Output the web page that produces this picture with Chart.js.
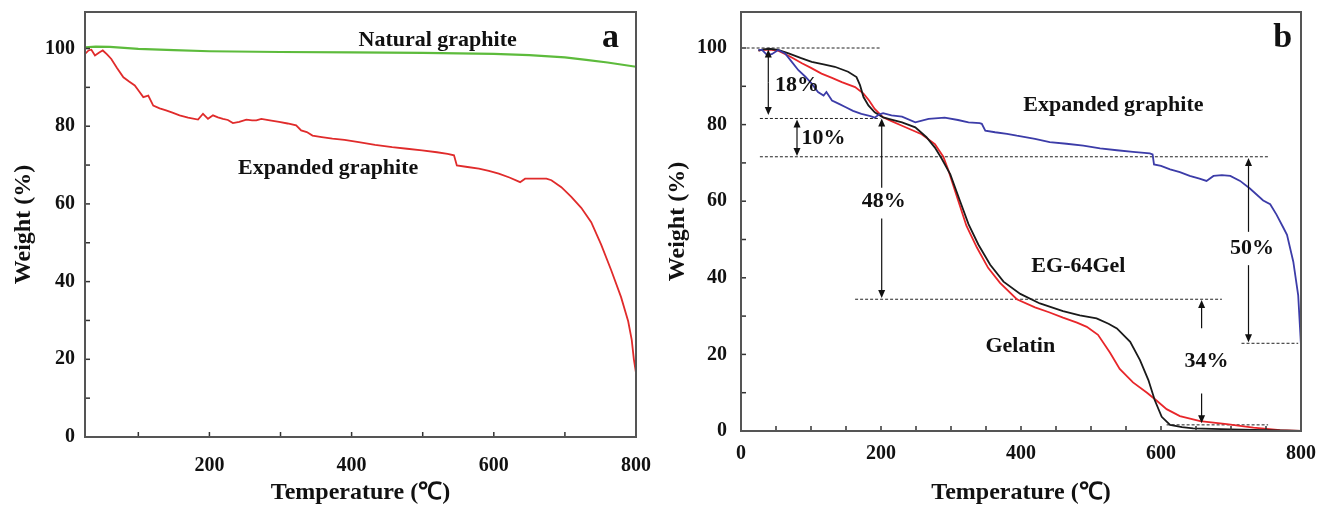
<!DOCTYPE html>
<html>
<head>
<meta charset="utf-8">
<script src="https://cdn.jsdelivr.net/npm/chart.js@4/dist/chart.umd.min.js"></script>
<style>
  body { margin: 0; background: #fff; }
  #wrap { position: relative; width: 1326px; height: 514px; }
  .panel { position: absolute; top: 0; height: 514px; }
  #pa { left: 0; width: 660px; }
  #pb { left: 660px; width: 666px; }
</style>
</head>
<body>
<div id="wrap">
  <div class="panel" id="pa"><canvas id="ca"></canvas></div>
  <div class="panel" id="pb"><canvas id="cb"></canvas></div>
</div>
<script>
// ---- panel a: natural vs expanded graphite ----
const tempA_NG = [25, 40, 60, 100, 150, 200, 300, 400, 500, 600, 650, 700, 730, 760, 800];
const wtA_NG = [100.3, 100.5, 100.4, 99.9, 99.6, 99.3, 99.1, 99.0, 98.9, 98.6, 98.3, 97.7, 97.1, 96.4, 95.3];

const tempA_EG = [25, 30, 34, 39, 45, 50, 56, 62, 70, 79, 87, 95, 101, 107, 114, 121, 130, 139, 148, 158,
  170, 184, 191, 198, 205, 212, 219, 226, 233, 242, 252, 260, 266, 273, 285, 298, 310, 322, 329, 337,
  345, 358, 373, 390, 410, 433, 457, 478, 499, 520, 535, 544, 548, 563, 579, 593, 607, 622, 637, 644,
  660, 674, 681, 695, 709, 723, 737, 751, 765, 779, 789, 794, 797, 800];
const wtA_EG = [98.6, 99.5, 99.7, 98.2, 99.0, 99.5, 98.5, 97.3, 95.0, 92.6, 91.5, 90.5, 89.0, 87.5, 87.9, 85.3, 84.6, 84.1, 83.5, 82.8,
  82.2, 81.7, 83.2, 81.9, 82.8, 82.3, 81.9, 81.6, 80.8, 81.1, 81.7, 81.5, 81.5, 81.9, 81.5, 81.1, 80.7, 80.2, 78.9, 78.5,
  77.6, 77.2, 76.8, 76.5, 75.9, 75.2, 74.6, 74.2, 73.8, 73.3, 72.9, 72.5, 69.9, 69.5, 69.1, 68.5, 67.8, 66.8, 65.6, 66.5,
  66.5, 66.5, 66.1, 64.3, 61.8, 59.0, 55.3, 49.5, 43.0, 36.0, 29.8, 25.0, 20.0, 16.5];

const xTicksA = [100, 200, 300, 400, 500, 600, 700, 800];
const xLabelsA = [200, 400, 600, 800];

// ---- panel b: expanded graphite, gelatin, EG-64Gel ----
const tempB_EG = [25, 30, 37, 44, 53, 63, 72, 82, 92, 101, 110, 118, 122, 130, 140, 149, 160, 172, 185, 191,
  197, 203, 215, 230, 249, 268, 291, 310, 325, 341, 344, 349, 363, 380, 394, 420, 441, 465, 489, 513,
  537, 560, 584, 588, 590, 600, 613, 627, 641, 655, 665, 675, 687, 699, 713, 727, 746, 756, 765, 775,
  780, 789, 796, 800];
const wtB_EG = [99.5, 99.5, 98.2, 98.4, 99.5, 98.6, 96.5, 94.2, 92.5, 90.7, 88.5, 87.6, 88.5, 86.3, 85.4, 84.6, 83.6, 82.8, 82.2, 81.8,
  82.6, 83.0, 82.4, 82.1, 80.6, 81.5, 81.8, 81.2, 80.6, 80.4, 80.2, 78.4, 78.0, 77.6, 77.1, 76.3, 75.4, 75.0, 74.5, 73.8,
  73.3, 72.9, 72.5, 72.2, 69.6, 69.2, 68.3, 67.6, 66.6, 65.9, 65.3, 66.6, 66.8, 66.6, 65.3, 63.3, 60.2, 59.2, 56.5, 53.0,
  51.2, 44.2, 35.4, 22.3];

const tempB_Comp = [25, 30, 40, 53, 68, 85, 101, 118, 134, 153, 165, 170, 175, 182, 191, 203, 215, 230, 249, 265,
  277, 287, 299, 313, 325, 339, 356, 375, 399, 427, 460, 484, 508, 525, 537, 556, 570, 582, 591, 601,
  613, 630, 646, 700, 750, 800];
const wtB_Comp = [99.3, 99.6, 99.8, 99.5, 98.6, 97.4, 96.4, 95.7, 95.1, 93.8, 92.4, 90.3, 87.2, 85.0, 83.2, 81.9, 81.3, 80.6, 79.3, 76.7,
  74.0, 71.0, 67.0, 60.0, 54.0, 48.7, 43.4, 39.0, 35.8, 33.3, 31.3, 30.2, 29.4, 28.0, 26.8, 23.3, 18.5, 13.3, 8.1, 3.7,
  1.6, 1.0, 0.7, 0.4, 0.2, 0];

const tempB_Gel = [25, 30, 40, 53, 70, 87, 100, 115, 130, 144, 163, 175, 183, 191, 203, 215, 230, 258, 277, 289,
  296, 310, 322, 337, 353, 370, 394, 420, 440, 460, 480, 494, 510, 527, 541, 560, 580, 594, 608, 627,
  656, 694, 732, 770, 800];
const wtB_Gel = [99.3, 99.5, 99.6, 99.3, 97.8, 96.0, 94.8, 93.3, 92.2, 91.1, 89.8, 88.1, 86.3, 84.1, 81.9, 80.9, 79.7, 77.5, 74.9, 71.6,
  68.2, 60.3, 53.6, 47.9, 42.6, 38.7, 34.4, 32.3, 31.0, 29.6, 28.3, 27.2, 25.1, 20.5, 16.2, 12.7, 10.0, 7.9, 5.7, 3.9,
  2.6, 1.8, 0.9, 0.2, 0];

const xTicksB = [0, 50, 100, 150, 200, 250, 300, 350, 400, 450, 500, 550, 600, 650, 700, 750, 800];
const xLabelsB = [0, 200, 400, 600, 800];

const yTicks = [0, 10, 20, 30, 40, 50, 60, 70, 80, 90, 100];
const yLabels = [0, 20, 40, 60, 80, 100];

// reference levels in b: [from T, to T, weight]
const dashB = [[8, 200, 100], [27, 199, 81.6], [27, 753, 71.6], [163, 687, 34.4], [608, 753, 1.6], [715, 796, 22.9]];
// arrow shafts in b: [T, tail weight, head weight]
const arrowsB = [[39, 91, 99.6], [39, 91, 82.5], [80, 76.5, 81.3], [80, 76.5, 71.8],
  [201, 63.5, 81.6], [201, 55.5, 34.7], [658, 26.8, 34.2], [658, 9.8, 2.0],
  [725, 52.0, 71.3], [725, 43.3, 23.2]];

const notesA = [['Natural graphite', 521, 102], ['Expanded graphite', 367, 69.2]];
const notesB = [['18%', 80, 90.3], ['10%', 118, 76.4], ['48%', 204, 60], ['34%', 665, 18.1], ['50%', 730, 47.7],
  ['Expanded graphite', 532, 85.1], ['EG-64Gel', 482, 42.9], ['Gelatin', 399, 22]];
const panelTag = { a: ['a', 764, 102.6], b: ['b', 774, 102.6] };

const serif = '"Liberation Serif", "Times New Roman", serif';

function pts(xs, ys) {
  return xs.map((x, i) => ({ x: x, y: ys[i] }));
}

function decor(notes, tag, arrows) {
  return {
    id: 'decor',
    afterDatasetsDraw(chart) {
      const { ctx, chartArea: a, scales: { x, y } } = chart;
      ctx.save();
      // inward ticks
      ctx.strokeStyle = '#333';
      ctx.lineWidth = 1.5;
      x.ticks.forEach(t => {
        const px = x.getPixelForValue(t.value);
        ctx.beginPath(); ctx.moveTo(px, a.bottom); ctx.lineTo(px, a.bottom - 5); ctx.stroke();
      });
      y.ticks.forEach(t => {
        const py = y.getPixelForValue(t.value);
        ctx.beginPath(); ctx.moveTo(a.left, py); ctx.lineTo(a.left + 5, py); ctx.stroke();
      });
      // frame
      ctx.strokeStyle = '#555';
      ctx.lineWidth = 2;
      ctx.strokeRect(a.left, a.top, a.right - a.left, a.bottom - a.top);
      // arrows
      ctx.strokeStyle = '#111';
      ctx.fillStyle = '#111';
      ctx.lineWidth = 1.2;
      (arrows || []).forEach(ar => {
        const px = x.getPixelForValue(ar[0]);
        const y0 = y.getPixelForValue(ar[1]);
        const y1 = y.getPixelForValue(ar[2]);
        const dir = y1 < y0 ? -1 : 1;
        ctx.beginPath(); ctx.moveTo(px, y0); ctx.lineTo(px, y1 - dir * 6); ctx.stroke();
        ctx.beginPath();
        ctx.moveTo(px, y1);
        ctx.lineTo(px - 3.5, y1 - dir * 8);
        ctx.lineTo(px + 3.5, y1 - dir * 8);
        ctx.closePath(); ctx.fill();
      });
      // text
      ctx.fillStyle = '#111';
      ctx.textAlign = 'center';
      ctx.textBaseline = 'middle';
      ctx.font = 'bold 22px ' + serif;
      notes.forEach(n => ctx.fillText(n[0], x.getPixelForValue(n[1]), y.getPixelForValue(n[2])));
      ctx.font = 'bold 34px ' + serif;
      ctx.fillText(tag[0], x.getPixelForValue(tag[1]), y.getPixelForValue(tag[2]));
      ctx.restore();
    }
  };
}

function makeChart(canvas, datasets, cfg) {
  return new Chart(canvas, {
    type: 'line',
    data: { datasets: datasets },
    options: {
      responsive: true,
      maintainAspectRatio: false,
      animation: false,
      layout: { padding: { left: 0, top: 12, right: cfg.padRight, bottom: 0 } },
      plugins: { legend: { display: false }, tooltip: { enabled: false } },
      elements: { point: { radius: 0 }, line: { tension: 0 } },
      scales: {
        x: {
          type: 'linear',
          min: cfg.xMin, max: 800,
          grid: { display: false, drawTicks: false },
          border: { display: false },
          afterBuildTicks: s => { s.ticks = cfg.xTicks.map(v => ({ value: v })); },
          afterFit: s => { s.height = cfg.xHeight; s.paddingLeft = 0; s.paddingRight = 0; },
          ticks: {
            autoSkip: false, maxRotation: 0, padding: cfg.xPad, color: '#111',
            font: { family: serif, size: 20, weight: 'bold' },
            callback: v => cfg.xLabels.includes(v) ? String(v) : ''
          },
          title: {
            display: true, text: 'Temperature (\u2103)', color: '#111',
            font: { family: serif, size: 24, weight: 'bold' },
            padding: { bottom: 7 }
          }
        },
        y: {
          min: 0, max: 109.4,
          grid: { display: false, drawTicks: false },
          border: { display: false },
          afterBuildTicks: s => { s.ticks = yTicks.map(v => ({ value: v })); },
          afterFit: s => { s.width = cfg.yWidth; s.paddingTop = 0; s.paddingBottom = 0; },
          ticks: {
            autoSkip: false, padding: cfg.yPad, color: '#111',
            font: { family: serif, size: 20, weight: 'bold' },
            callback: v => yLabels.includes(v) ? String(v) : ''
          },
          title: {
            display: true, text: 'Weight (%)', color: '#111',
            font: { family: serif, size: 24, weight: 'bold' },
            padding: { top: cfg.yTitlePad }
          }
        }
      }
    },
    plugins: [decor(cfg.notes, cfg.tag, cfg.arrows)]
  });
}

makeChart(document.getElementById('ca'), [
  { data: pts(tempA_NG, wtA_NG), borderColor: '#5dbb3c', borderWidth: 2.2 },
  { data: pts(tempA_EG, wtA_EG), borderColor: '#e02b2b', borderWidth: 1.8 }
], {
  xMin: 25, xTicks: xTicksA, xLabels: xLabelsA, padRight: 24, xHeight: 77, yWidth: 85,
  xPad: 17, yPad: 10, yTitlePad: 9, notes: notesA, tag: panelTag.a, arrows: []
});

const dashSets = dashB.map(d => ({
  data: [{ x: d[0], y: d[2] }, { x: d[1], y: d[2] }],
  borderColor: '#222', borderWidth: 1, borderDash: [3, 2]
}));

makeChart(document.getElementById('cb'), [
  { data: pts(tempB_EG, wtB_EG), borderColor: '#3c3ca8', borderWidth: 1.8 },
  { data: pts(tempB_Comp, wtB_Comp), borderColor: '#1a1a1a', borderWidth: 1.8 },
  { data: pts(tempB_Gel, wtB_Gel), borderColor: '#e8262a', borderWidth: 1.8 }
].concat(dashSets), {
  xMin: 0, xTicks: xTicksB, xLabels: xLabelsB, padRight: 25, xHeight: 83, yWidth: 81,
  xPad: 11, yPad: 14, yTitlePad: 3, notes: notesB, tag: panelTag.b, arrows: arrowsB
});
</script>
</body>
</html>
